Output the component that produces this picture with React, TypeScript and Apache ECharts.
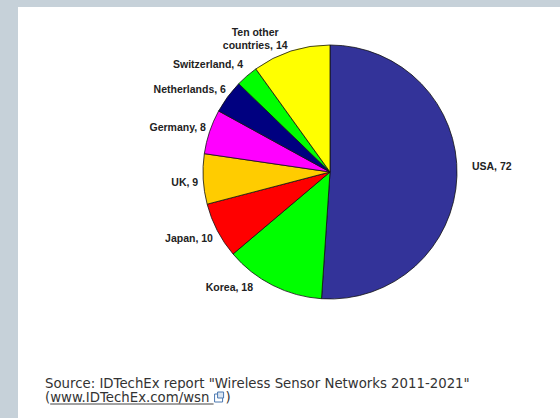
import React, { useEffect, useRef } from "react";
import * as echarts from "echarts";

const countries = ["USA", "Korea", "Japan", "UK", "Germany", "Netherlands", "Switzerland", "Ten other\ncountries"];
const values = [72, 18, 10, 9, 8, 6, 4, 14];
const sliceColors = ["#333399", "#00ff00", "#ff0000", "#ffcc00", "#ff00ff", "#000080", "#00ff00", "#ffff00"];
const labelOffsets: [number, number][] = [[4, -10], [-12, -4], [6, 5], [6, 3], [7, -3], [8, -4], [5, -7], [-29, -7]];
const sourceLine1 = 'Source: IDTechEx report "Wireless Sensor Networks 2011-2021"';
const sourceLink = "www.IDTechEx.com/wsn";

const SRC_SIZE = 13.3;
const SRC_FONT = SRC_SIZE + "px 'DejaVu Sans', Verdana, sans-serif";

function measure(text: string, font: string): number {
  const c = document.createElement("canvas").getContext("2d");
  if (!c) return text.length * 7;
  c.font = font;
  return c.measureText(text).width;
}

export default function App() {
  const ref = useRef<HTMLDivElement>(null);
  useEffect(() => {
    if (!ref.current) return;
    const chart = echarts.init(ref.current, null, { renderer: "svg" });
    const data = countries.map((name, i) => ({
      name,
      value: values[i],
      itemStyle: { color: sliceColors[i] },
    }));
    const x0 = 45;
    const parenW = measure("(", SRC_FONT);
    const linkW = measure(sourceLink, SRC_FONT);
    const spaceW = measure(" ", SRC_FONT);
    const linkEnd = x0 + parenW + linkW;
    const iconX = linkEnd + spaceW;
    chart.setOption({
      animation: false,
      backgroundColor: "#ffffff",
      series: [
        {
          type: "pie",
          center: [330, 172],
          radius: 127,
          startAngle: 90,
          clockwise: true,
          avoidLabelOverlap: false,
          data,
          itemStyle: { borderColor: "#111", borderWidth: 0.8 },
          label: {
            show: true,
            position: "outside",
            formatter: "{b}, {c}",
            fontFamily: "Liberation Sans, Arial, sans-serif",
            fontWeight: "bold",
            fontSize: 10.5,
            color: "#222",
            lineHeight: 13,
          },
          labelLine: { show: false, length: 6, length2: 0 },
          labelLayout: (p: any) => {
            const o = labelOffsets[p.dataIndex];
            const r: any = { dx: o[0], dy: o[1] };
            if (p.dataIndex === 7) r.align = "center";
            return r;
          },
          emphasis: { disabled: true },
        },
      ],
      graphic: [
        { type: "rect", shape: { x: 0, y: 0, width: 560, height: 7 }, style: { fill: "#c6d1d9" }, silent: true },
        { type: "rect", shape: { x: 0, y: 0, width: 18, height: 418 }, style: { fill: "#c6d1d9" }, silent: true },
        {
          type: "text",
          x: x0,
          y: 383.5,
          style: { text: sourceLine1, font: SRC_FONT, lineHeight: 13, fill: "#333", verticalAlign: "middle" },
        },
        {
          type: "text",
          x: x0,
          y: 397.5,
          style: { text: "(" + sourceLink, font: SRC_FONT, lineHeight: 13, fill: "#333", verticalAlign: "middle" },
        },
        { type: "line", shape: { x1: x0 + parenW, y1: 404, x2: iconX, y2: 404 }, style: { stroke: "#444", lineWidth: 1 } },
        { type: "rect", shape: { x: iconX + 1, y: 394, width: 8, height: 8 }, style: { fill: "#fff", stroke: "#4a78b0", lineWidth: 1 } },
        { type: "rect", shape: { x: iconX + 4, y: 392, width: 6, height: 6 }, style: { fill: "#dbe6f2", stroke: "#4a78b0", lineWidth: 1 } },
        {
          type: "text",
          x: iconX + 12,
          y: 397.5,
          style: { text: ")", font: SRC_FONT, lineHeight: 13, fill: "#333", verticalAlign: "middle" },
        },
      ],
    });
    return () => chart.dispose();
  }, []);
  return <div ref={ref} style={{ position: "fixed", left: 0, top: 0, width: 560, height: 418 }} />;
}
